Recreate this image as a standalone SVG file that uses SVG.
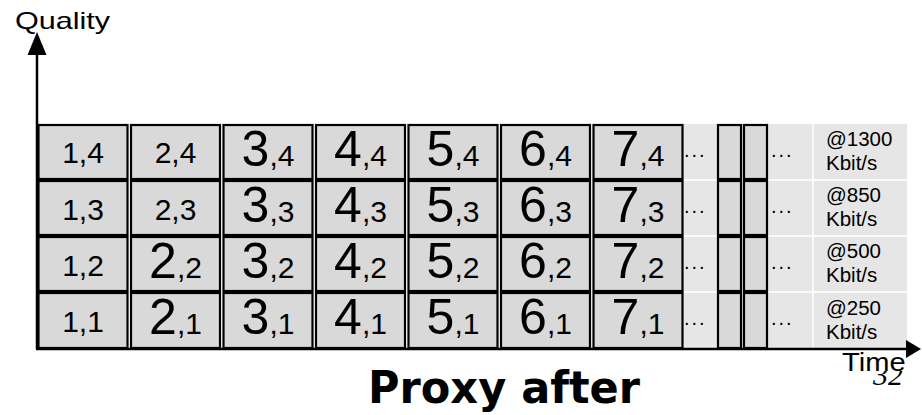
<svg xmlns="http://www.w3.org/2000/svg" width="922" height="415" viewBox="0 0 922 415">
<style>
.cell{fill:#d9d9d9;stroke:#000;stroke-width:2.2}
.sm{font-family:"Liberation Sans",Arial,sans-serif;font-size:30px;fill:#000;text-anchor:middle}
.big{font-size:50px}
.lbl{font-family:"Liberation Sans",Arial,sans-serif;font-size:20.5px;fill:#000}
.dots{font-family:"Liberation Sans",Arial,sans-serif;font-size:20px;fill:#000;letter-spacing:2px}
.axis{stroke:#000;stroke-width:2.5;fill:none}
</style>
<rect width="922" height="415" fill="#fff"/>
<g id="rightRegion">
<rect x="683" y="124" width="224" height="225" fill="#e6e6e6"/>
<g stroke="#fff" stroke-width="1.5">
<line x1="683" y1="180" x2="907" y2="180"/>
<line x1="683" y1="236" x2="907" y2="236"/>
<line x1="683" y1="292" x2="907" y2="292"/>
<line x1="813" y1="124" x2="813" y2="348"/>
</g>
</g>
<g id="c1-4"><rect class="cell" x="38.5" y="125" width="89" height="54"/><text class="sm" x="83" y="163">1,4</text></g>
<g id="c2-4"><rect class="cell" x="131" y="125" width="89" height="54"/><text class="sm" x="175.5" y="163">2,4</text></g>
<g id="c3-4"><rect class="cell" x="223.5" y="125" width="89" height="54"/><text class="sm" x="268" y="166"><tspan class="big">3</tspan>,4</text></g>
<g id="c4-4"><rect class="cell" x="316" y="125" width="89" height="54"/><text class="sm" x="360.5" y="166"><tspan class="big">4</tspan>,4</text></g>
<g id="c5-4"><rect class="cell" x="408.5" y="125" width="89" height="54"/><text class="sm" x="453" y="166"><tspan class="big">5</tspan>,4</text></g>
<g id="c6-4"><rect class="cell" x="501" y="125" width="89" height="54"/><text class="sm" x="545.5" y="166"><tspan class="big">6</tspan>,4</text></g>
<g id="c7-4"><rect class="cell" x="593.5" y="125" width="89" height="54"/><text class="sm" x="638" y="166"><tspan class="big">7</tspan>,4</text></g>
<g id="c1-3"><rect class="cell" x="38.5" y="181" width="89" height="54"/><text class="sm" x="83" y="220">1,3</text></g>
<g id="c2-3"><rect class="cell" x="131" y="181" width="89" height="54"/><text class="sm" x="175.5" y="220">2,3</text></g>
<g id="c3-3"><rect class="cell" x="223.5" y="181" width="89" height="54"/><text class="sm" x="268" y="222"><tspan class="big">3</tspan>,3</text></g>
<g id="c4-3"><rect class="cell" x="316" y="181" width="89" height="54"/><text class="sm" x="360.5" y="222"><tspan class="big">4</tspan>,3</text></g>
<g id="c5-3"><rect class="cell" x="408.5" y="181" width="89" height="54"/><text class="sm" x="453" y="222"><tspan class="big">5</tspan>,3</text></g>
<g id="c6-3"><rect class="cell" x="501" y="181" width="89" height="54"/><text class="sm" x="545.5" y="222"><tspan class="big">6</tspan>,3</text></g>
<g id="c7-3"><rect class="cell" x="593.5" y="181" width="89" height="54"/><text class="sm" x="638" y="222"><tspan class="big">7</tspan>,3</text></g>
<g id="c1-2"><rect class="cell" x="38.5" y="237" width="89" height="54"/><text class="sm" x="83" y="276">1,2</text></g>
<g id="c2-2"><rect class="cell" x="131" y="237" width="89" height="54"/><text class="sm" x="175.5" y="278"><tspan class="big">2</tspan>,2</text></g>
<g id="c3-2"><rect class="cell" x="223.5" y="237" width="89" height="54"/><text class="sm" x="268" y="278"><tspan class="big">3</tspan>,2</text></g>
<g id="c4-2"><rect class="cell" x="316" y="237" width="89" height="54"/><text class="sm" x="360.5" y="278"><tspan class="big">4</tspan>,2</text></g>
<g id="c5-2"><rect class="cell" x="408.5" y="237" width="89" height="54"/><text class="sm" x="453" y="278"><tspan class="big">5</tspan>,2</text></g>
<g id="c6-2"><rect class="cell" x="501" y="237" width="89" height="54"/><text class="sm" x="545.5" y="278"><tspan class="big">6</tspan>,2</text></g>
<g id="c7-2"><rect class="cell" x="593.5" y="237" width="89" height="54"/><text class="sm" x="638" y="278"><tspan class="big">7</tspan>,2</text></g>
<g id="c1-1"><rect class="cell" x="38.5" y="293" width="89" height="55"/><text class="sm" x="83" y="332">1,1</text></g>
<g id="c2-1"><rect class="cell" x="131" y="293" width="89" height="55"/><text class="sm" x="175.5" y="334"><tspan class="big">2</tspan>,1</text></g>
<g id="c3-1"><rect class="cell" x="223.5" y="293" width="89" height="55"/><text class="sm" x="268" y="334"><tspan class="big">3</tspan>,1</text></g>
<g id="c4-1"><rect class="cell" x="316" y="293" width="89" height="55"/><text class="sm" x="360.5" y="334"><tspan class="big">4</tspan>,1</text></g>
<g id="c5-1"><rect class="cell" x="408.5" y="293" width="89" height="55"/><text class="sm" x="453" y="334"><tspan class="big">5</tspan>,1</text></g>
<g id="c6-1"><rect class="cell" x="501" y="293" width="89" height="55"/><text class="sm" x="545.5" y="334"><tspan class="big">6</tspan>,1</text></g>
<g id="c7-1"><rect class="cell" x="593.5" y="293" width="89" height="55"/><text class="sm" x="638" y="334"><tspan class="big">7</tspan>,1</text></g>
<g id="seg-a">
<rect class="cell" x="718" y="125" width="23" height="54"/>
<rect class="cell" x="718" y="181" width="23" height="54"/>
<rect class="cell" x="718" y="237" width="23" height="54"/>
<rect class="cell" x="718" y="293" width="23" height="55"/>
</g>
<g id="seg-b">
<rect class="cell" x="744" y="125" width="23" height="54"/>
<rect class="cell" x="744" y="181" width="23" height="54"/>
<rect class="cell" x="744" y="237" width="23" height="54"/>
<rect class="cell" x="744" y="293" width="23" height="55"/>
</g>
<g id="dots">
<text class="dots" x="684" y="157">...</text>
<text class="dots" x="771" y="157">...</text>
<text class="dots" x="684" y="213">...</text>
<text class="dots" x="771" y="213">...</text>
<text class="dots" x="684" y="269">...</text>
<text class="dots" x="771" y="269">...</text>
<text class="dots" x="684" y="325">...</text>
<text class="dots" x="771" y="325">...</text>
</g>
<g id="rates">
<text class="lbl" x="826" y="146">@1300</text><text class="lbl" x="826" y="170">Kbit/s</text>
<text class="lbl" x="826" y="202">@850</text><text class="lbl" x="826" y="226">Kbit/s</text>
<text class="lbl" x="826" y="258">@500</text><text class="lbl" x="826" y="282">Kbit/s</text>
<text class="lbl" x="826" y="315">@250</text><text class="lbl" x="826" y="339">Kbit/s</text>
</g>
<text x="873" y="385" font-family="Liberation Serif,serif" font-size="30" font-style="italic" fill="#000">32</text>
<rect x="860" y="351" width="46" height="20" fill="#fff"/>
<g id="connectors">
<line class="axis" x1="37" y1="54" x2="37" y2="349"/>
<polygon points="37,32 27.5,55 46.5,55" fill="#000"/>
<line class="axis" x1="36" y1="349" x2="908" y2="349"/>
<polygon points="921,349 906,340 906,358" fill="#000"/>
</g>
<text transform="translate(15,29) scale(1.33,1)" font-family="Liberation Sans,Arial,sans-serif" font-size="23" fill="#000">Quality</text>
<text transform="translate(842,371) scale(1.12,1)" font-family="Liberation Sans,Arial,sans-serif" font-size="26" fill="#000">Time</text>
<text x="368" y="403" font-family="DejaVu Sans,sans-serif" font-weight="bold" font-size="44" textLength="272" lengthAdjust="spacingAndGlyphs" fill="#000">Proxy after</text>
</svg>
